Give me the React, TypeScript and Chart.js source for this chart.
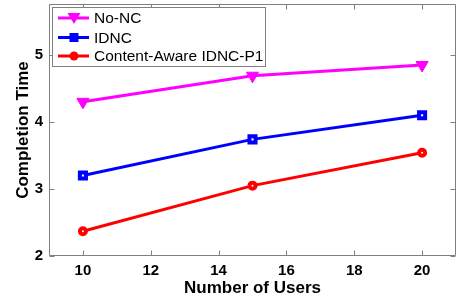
import React, { useEffect, useRef } from "react";
import { Chart, registerables } from "chart.js";

Chart.register(...registerables);

const users = [10, 15, 20];
const noNC = [4.3, 4.69, 4.85];
const idnc = [3.2, 3.74, 4.1];
const aware = [2.37, 3.05, 3.54];
const xTicks = [10, 12, 14, 16, 18, 20];
const yTicks = [2, 3, 4, 5];
const seriesNames = ["No-NC", "IDNC", "Content-Aware IDNC-P1"];

const FONT = "'Liberation Sans', Arial, Helvetica, sans-serif";
const AXIS = "#808080";

const frame = {
  id: "frame",
  afterDraw(chart: any) {
    const { ctx, chartArea: a, scales } = chart;
    ctx.save();
    ctx.strokeStyle = AXIS;
    ctx.lineWidth = 1;
    const L = Math.round(a.left) + 0.5;
    const R = Math.round(a.right) - 0.5;
    const T = Math.round(a.top) + 0.5;
    const B = Math.round(a.bottom) - 0.5;
    ctx.beginPath();
    ctx.rect(L, T, R - L, B - T);
    const tl = 5;
    for (const v of xTicks) {
      const px = Math.round(scales.x.getPixelForValue(v)) + 0.5;
      ctx.moveTo(px, B);
      ctx.lineTo(px, B - tl);
      ctx.moveTo(px, T);
      ctx.lineTo(px, T + tl);
    }
    for (const v of yTicks) {
      const py = Math.round(scales.y.getPixelForValue(v)) + 0.5;
      ctx.moveTo(L, py);
      ctx.lineTo(L + tl, py);
      ctx.moveTo(R, py);
      ctx.lineTo(R - tl, py);
    }
    ctx.stroke();

    // legend
    const bx = 52.5, by = 7.5, bw = 213, bh = 59;
    ctx.fillStyle = "#ffffff";
    ctx.fillRect(bx, by, bw, bh);
    ctx.strokeRect(bx, by, bw, bh);
    const rows = [18, 37.5, 56];
    chart.data.datasets.forEach((ds: any, i: number) => {
      const y = rows[i];
      ctx.strokeStyle = ds.borderColor;
      ctx.lineWidth = 3;
      ctx.beginPath();
      ctx.moveTo(58, y);
      ctx.lineTo(89, y);
      ctx.stroke();
      ctx.fillStyle = ds.borderColor;
      ctx.beginPath();
      if (i === 0) {
        ctx.moveTo(67.5, y - 5);
        ctx.lineTo(80.5, y - 5);
        ctx.lineTo(74, y + 6);
        ctx.closePath();
      } else if (i === 1) {
        ctx.rect(69.5, y - 4.5, 9, 9);
      } else {
        ctx.arc(74, y, 4.5, 0, Math.PI * 2);
      }
      ctx.fill();
      ctx.fillStyle = "#000000";
      ctx.font = `15.5px ${FONT}`;
      ctx.textBaseline = "middle";
      ctx.textAlign = "left";
      ctx.fillText(ds.label, 94, y + 1);
    });
    ctx.restore();
  },
};

export default function App() {
  const ref = useRef<HTMLCanvasElement | null>(null);
  useEffect(() => {
    document.body.style.margin = "0";
    if (!ref.current) return;
    const mk = (arr: number[]) => users.map((u, i) => ({ x: u, y: arr[i] }));
    const chart = new Chart(ref.current, {
      type: "line",
      data: {
        datasets: [
          {
            label: seriesNames[0],
            data: mk(noNC),
            borderColor: "#ff00ff",
            backgroundColor: "#ff00ff",
            borderWidth: 3,
            pointStyle: "triangle",
            pointRotation: 180,
            pointRadius: 7,
            pointBorderWidth: 1,
          },
          {
            label: seriesNames[1],
            data: mk(idnc),
            borderColor: "#0000ff",
            backgroundColor: "#ffffff",
            borderWidth: 3,
            pointStyle: "rect",
            pointRadius: 4.3,
            pointBorderWidth: 4,
          },
          {
            label: seriesNames[2],
            data: mk(aware),
            borderColor: "#ff0000",
            backgroundColor: "#ffffff",
            borderWidth: 3,
            pointStyle: "circle",
            pointRadius: 3,
            pointBorderWidth: 4,
          },
        ],
      },
      options: {
        animation: false,
        responsive: false,
        layout: { autoPadding: false, padding: { top: 4, right: 3, left: 0, bottom: 0 } },
        plugins: { legend: { display: false }, tooltip: { enabled: false } },
        scales: {
          x: {
            type: "linear",
            min: 9,
            max: 21,
            afterFit: (s: any) => {
              s.height = 41;
              s.paddingLeft = 0;
              s.paddingRight = 0;
            },
            afterBuildTicks: (s: any) => {
              s.ticks = xTicks.map((v) => ({ value: v }));
            },
            grid: { display: false, drawTicks: false },
            border: { display: false },
            ticks: {
              color: "#000",
              padding: 6,
              font: { family: FONT, size: 15, weight: "bold" },
              maxRotation: 0,
            },
            title: {
              display: true,
              text: "Number of Users",
              color: "#000",
              font: { family: FONT, size: 17, weight: "bold" },
              padding: { top: 0, bottom: -2 },
            },
          },
          y: {
            type: "linear",
            min: 2,
            max: 5.76,
            afterFit: (s: any) => {
              s.width = 49;
              s.paddingTop = 0;
              s.paddingBottom = 0;
            },
            afterBuildTicks: (s: any) => {
              s.ticks = yTicks.map((v) => ({ value: v }));
            },
            grid: { display: false, drawTicks: false },
            border: { display: false },
            ticks: {
              color: "#000",
              padding: 6,
              font: { family: FONT, size: 15, weight: "bold" },
            },
            title: {
              display: true,
              text: "Completion Time",
              color: "#000",
              font: { family: FONT, size: 17, weight: "bold" },
              padding: { top: 13, bottom: 0 },
            },
          },
        },
      },
      plugins: [frame],
    });
    return () => chart.destroy();
  }, []);
  return (
    <div style={{ width: 459, height: 297 }}>
      <canvas ref={ref} width={459} height={297} />
    </div>
  );
}
